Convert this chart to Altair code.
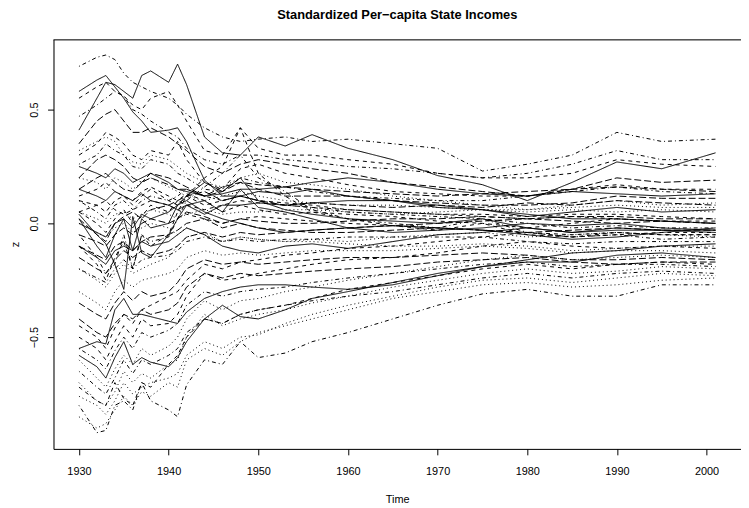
import altair as alt
import pandas as pd

years = [1930, 1932, 1933, 1934, 1935, 1936, 1937, 1938, 1940, 1941, 1942, 1944, 1946,
         1948, 1950, 1953, 1956, 1960, 1965, 1970, 1975, 1980, 1985, 1990, 1995, 2001]

line_types = ["solid", "dashed", "dotted", "dotdash", "longdash"]

s01 = [-0.58, -0.63, -0.68, -0.59, -0.52, -0.62, -0.59, -0.61, -0.63, -0.59, -0.52, -0.42, -0.36, -0.41, -0.42, -0.38, -0.33, -0.30, -0.26, -0.22, -0.19, -0.17, -0.17, -0.14, -0.13, -0.15]
s02 = [0.05, 0.00, -0.04, 0.02, 0.06, 0.00, 0.03, 0.08, 0.05, 0.10, 0.13, 0.10, 0.05, 0.08, 0.06, 0.04, 0.05, 0.04, 0.03, 0.01, 0.00, -0.02, 0.00, 0.02, 0.01, 0.00]
s03 = [-0.76, -0.80, -0.84, -0.78, -0.70, -0.75, -0.72, -0.70, -0.68, -0.66, -0.58, -0.52, -0.55, -0.50, -0.49, -0.44, -0.40, -0.36, -0.32, -0.28, -0.25, -0.24, -0.26, -0.24, -0.22, -0.23]
s04 = [0.69, 0.73, 0.74, 0.72, 0.66, 0.62, 0.60, 0.58, 0.55, 0.52, 0.48, 0.42, 0.38, 0.36, 0.37, 0.38, 0.36, 0.37, 0.35, 0.33, 0.23, 0.26, 0.30, 0.40, 0.36, 0.37]
s05 = [0.02, -0.05, -0.08, 0.00, 0.03, 0.05, 0.02, 0.06, 0.08, 0.10, 0.12, 0.14, 0.10, 0.12, 0.10, 0.08, 0.09, 0.08, 0.07, 0.08, 0.07, 0.09, 0.08, 0.10, 0.09, 0.08]
s06 = [0.41, 0.55, 0.62, 0.61, 0.58, 0.55, 0.65, 0.67, 0.62, 0.70, 0.61, 0.38, 0.31, 0.30, 0.38, 0.34, 0.39, 0.33, 0.28, 0.21, 0.17, 0.10, 0.18, 0.27, 0.24, 0.31]
s07 = [0.55, 0.60, 0.62, 0.58, 0.56, 0.52, 0.50, 0.55, 0.58, 0.52, 0.45, 0.32, 0.30, 0.42, 0.33, 0.30, 0.30, 0.28, 0.26, 0.22, 0.20, 0.20, 0.22, 0.28, 0.26, 0.25]
s08 = [-0.20, -0.25, -0.28, -0.22, -0.18, -0.22, -0.20, -0.18, -0.15, -0.10, -0.06, -0.04, -0.08, -0.06, -0.07, -0.08, -0.07, -0.08, -0.06, -0.05, -0.04, -0.06, -0.05, -0.04, -0.05, -0.06]
s09 = [-0.05, -0.15, -0.22, -0.18, -0.05, -0.20, -0.05, -0.08, -0.06, 0.02, 0.10, 0.16, 0.22, 0.30, 0.20, 0.14, 0.06, 0.02, 0.00, -0.02, 0.02, -0.04, -0.06, -0.05, -0.07, -0.06]
s10 = [0.15, 0.20, 0.22, 0.18, 0.15, 0.14, 0.18, 0.20, 0.17, 0.15, 0.15, 0.12, 0.16, 0.18, 0.17, 0.16, 0.15, 0.14, 0.13, 0.12, 0.13, 0.14, 0.15, 0.16, 0.15, 0.14]
s11 = [0.58, 0.63, 0.65, 0.60, 0.55, 0.49, 0.45, 0.40, 0.41, 0.42, 0.36, 0.19, 0.12, 0.12, 0.14, 0.13, 0.15, 0.12, 0.10, 0.08, 0.06, 0.03, 0.05, 0.07, 0.05, 0.06]
s12 = [-0.50, -0.55, -0.60, -0.52, -0.45, -0.50, -0.42, -0.45, -0.44, -0.40, -0.32, -0.22, -0.25, -0.24, -0.22, -0.20, -0.18, -0.16, -0.15, -0.13, -0.10, -0.08, -0.10, -0.11, -0.10, -0.11]
s13 = [0.32, 0.36, 0.38, 0.36, 0.30, 0.27, 0.26, 0.30, 0.28, 0.25, 0.22, 0.18, 0.16, 0.20, 0.22, 0.18, 0.17, 0.15, 0.12, 0.10, 0.08, 0.06, 0.08, 0.10, 0.08, 0.09]
s14 = [-0.80, -0.92, -0.91, -0.80, -0.78, -0.82, -0.70, -0.78, -0.82, -0.85, -0.71, -0.60, -0.62, -0.52, -0.59, -0.57, -0.52, -0.48, -0.42, -0.36, -0.31, -0.29, -0.32, -0.32, -0.27, -0.27]
s15 = [-0.42, -0.48, -0.50, -0.44, -0.40, -0.42, -0.38, -0.40, -0.38, -0.35, -0.28, -0.22, -0.24, -0.22, -0.23, -0.22, -0.21, -0.20, -0.19, -0.17, -0.16, -0.15, -0.17, -0.18, -0.17, -0.17]
s16 = [0.04, -0.05, -0.09, -0.18, -0.29, 0.03, -0.13, -0.15, -0.05, 0.02, 0.08, 0.10, 0.05, 0.15, 0.07, 0.05, 0.02, -0.02, -0.04, -0.03, -0.02, 0.00, -0.01, 0.00, -0.02, -0.03]
s17 = [0.10, 0.08, 0.05, 0.10, 0.12, 0.08, 0.12, 0.15, 0.10, 0.08, 0.12, 0.08, 0.10, 0.12, 0.10, 0.09, 0.08, 0.06, 0.05, 0.04, 0.03, 0.02, 0.03, 0.02, 0.01, 0.01]
s18 = [-0.70, -0.78, -0.80, -0.74, -0.65, -0.70, -0.66, -0.68, -0.62, -0.60, -0.50, -0.40, -0.45, -0.42, -0.40, -0.38, -0.35, -0.32, -0.28, -0.25, -0.22, -0.20, -0.22, -0.21, -0.19, -0.20]
s19 = [0.47, 0.52, 0.55, 0.58, 0.56, 0.50, 0.48, 0.45, 0.40, 0.38, 0.33, 0.28, 0.26, 0.30, 0.30, 0.28, 0.27, 0.25, 0.24, 0.22, 0.20, 0.22, 0.26, 0.32, 0.28, 0.28]
s20 = [-0.10, -0.14, -0.16, -0.10, -0.08, -0.12, -0.08, -0.06, -0.05, -0.03, 0.00, 0.02, -0.02, 0.00, -0.02, -0.03, -0.04, -0.04, -0.03, -0.02, -0.03, -0.04, -0.03, -0.02, -0.03, -0.03]
s21 = [-0.55, -0.52, -0.53, -0.38, -0.33, -0.40, -0.40, -0.41, -0.43, -0.44, -0.39, -0.33, -0.30, -0.28, -0.27, -0.27, -0.28, -0.29, -0.27, -0.23, -0.19, -0.16, -0.13, -0.12, -0.10, -0.09]
s22 = [-0.10, -0.18, -0.25, -0.15, -0.08, -0.20, -0.05, -0.10, -0.05, 0.05, 0.12, 0.20, 0.25, 0.42, 0.22, 0.12, 0.05, 0.02, -0.01, -0.03, 0.00, -0.05, -0.06, -0.04, -0.05, -0.05]
s23 = [0.00, -0.04, -0.06, -0.02, 0.00, -0.04, -0.02, 0.00, -0.02, -0.05, -0.02, -0.05, -0.08, -0.06, -0.07, -0.08, -0.08, -0.09, -0.10, -0.10, -0.09, -0.10, -0.12, -0.11, -0.10, -0.10]
s24 = [-0.65, -0.72, -0.75, -0.68, -0.60, -0.66, -0.60, -0.62, -0.58, -0.55, -0.48, -0.42, -0.44, -0.40, -0.38, -0.36, -0.34, -0.32, -0.30, -0.27, -0.24, -0.22, -0.24, -0.22, -0.21, -0.22]
s25 = [0.35, 0.45, 0.48, 0.50, 0.45, 0.40, 0.40, 0.42, 0.38, 0.35, 0.32, 0.25, 0.22, 0.26, 0.28, 0.26, 0.24, 0.22, 0.18, 0.16, 0.14, 0.12, 0.15, 0.20, 0.18, 0.19]
s26 = [0.25, 0.22, 0.20, 0.24, 0.22, 0.18, 0.20, 0.22, 0.18, 0.15, 0.14, 0.12, 0.13, 0.15, 0.15, 0.16, 0.18, 0.20, 0.18, 0.15, 0.13, 0.12, 0.14, 0.13, 0.12, 0.13]
s27 = [0.30, 0.35, 0.40, 0.38, 0.35, 0.30, 0.28, 0.32, 0.30, 0.36, 0.28, 0.18, 0.15, 0.24, 0.26, 0.22, 0.20, 0.17, 0.14, 0.13, 0.12, 0.12, 0.15, 0.17, 0.15, 0.15]
s28 = [-0.85, -0.90, -0.88, -0.82, -0.76, -0.80, -0.74, -0.76, -0.70, -0.72, -0.60, -0.55, -0.58, -0.52, -0.48, -0.45, -0.42, -0.38, -0.33, -0.30, -0.27, -0.26, -0.28, -0.27, -0.25, -0.24]
s29 = [0.26, 0.30, 0.35, 0.32, 0.30, 0.25, 0.24, 0.28, 0.26, 0.22, 0.20, 0.15, 0.14, 0.20, 0.18, 0.16, 0.14, 0.12, 0.11, 0.10, 0.10, 0.12, 0.14, 0.16, 0.14, 0.13]
s30 = [-0.15, -0.20, -0.22, -0.16, -0.12, -0.15, -0.12, -0.14, -0.12, -0.10, -0.06, -0.04, -0.06, -0.04, -0.05, -0.04, -0.03, -0.02, -0.01, 0.00, 0.01, 0.02, 0.01, 0.00, 0.01, 0.00]
s31 = [0.15, 0.12, 0.10, 0.14, 0.12, 0.10, 0.13, 0.10, 0.08, 0.06, 0.08, 0.04, 0.08, 0.08, 0.09, 0.08, 0.09, 0.10, 0.10, 0.07, 0.06, 0.04, 0.02, 0.02, 0.01, 0.00]
s32 = [-0.45, -0.50, -0.55, -0.46, -0.40, -0.44, -0.38, -0.36, -0.32, -0.30, -0.25, -0.18, -0.20, -0.17, -0.16, -0.14, -0.13, -0.11, -0.10, -0.08, -0.06, -0.04, -0.06, -0.05, -0.04, -0.04]
s33 = [0.05, 0.02, 0.00, 0.04, 0.05, 0.02, 0.04, 0.06, 0.04, 0.02, 0.04, 0.06, 0.04, 0.05, 0.05, 0.06, 0.06, 0.05, 0.04, 0.05, 0.06, 0.05, 0.06, 0.05, 0.06, 0.05]
s34 = [0.10, 0.05, 0.02, 0.08, 0.10, 0.06, 0.10, 0.12, 0.10, 0.12, 0.15, 0.12, 0.10, 0.12, 0.10, 0.08, 0.07, 0.05, 0.04, 0.03, 0.02, 0.00, -0.02, -0.01, -0.02, -0.02]
s35 = [0.20, 0.28, 0.30, 0.28, 0.25, 0.20, 0.18, 0.22, 0.20, 0.18, 0.16, 0.12, 0.14, 0.18, 0.15, 0.12, 0.12, 0.12, 0.10, 0.09, 0.08, 0.08, 0.09, 0.12, 0.11, 0.11]
s36 = [-0.10, -0.15, -0.18, -0.12, -0.10, -0.12, -0.08, -0.10, -0.08, -0.05, -0.02, -0.05, -0.10, -0.12, -0.13, -0.10, -0.09, -0.11, -0.08, -0.05, -0.04, -0.02, -0.04, -0.03, -0.03, -0.04]
s37 = [0.05, 0.08, 0.10, 0.06, 0.04, 0.06, 0.08, 0.10, 0.08, 0.06, 0.04, 0.02, 0.00, 0.02, 0.03, 0.02, 0.01, 0.00, -0.01, -0.02, -0.03, -0.04, -0.05, -0.04, -0.05, -0.05]
s38 = [-0.30, -0.35, -0.38, -0.30, -0.25, -0.28, -0.25, -0.24, -0.22, -0.20, -0.15, -0.12, -0.14, -0.13, -0.14, -0.13, -0.12, -0.12, -0.12, -0.11, -0.10, -0.11, -0.13, -0.12, -0.12, -0.13]
s39 = [-0.55, -0.60, -0.64, -0.56, -0.50, -0.55, -0.48, -0.50, -0.47, -0.44, -0.36, -0.30, -0.32, -0.30, -0.29, -0.28, -0.26, -0.24, -0.22, -0.20, -0.18, -0.17, -0.19, -0.18, -0.18, -0.19]
s40 = [-0.05, -0.08, -0.10, -0.05, -0.02, -0.05, 0.00, 0.02, 0.00, 0.02, 0.05, 0.03, 0.00, 0.02, 0.01, 0.00, 0.00, 0.01, 0.02, 0.02, 0.03, 0.02, 0.03, 0.03, 0.02, 0.02]
s41 = [0.00, -0.04, -0.06, 0.00, 0.02, -0.02, 0.04, 0.02, 0.05, 0.08, 0.10, 0.05, 0.02, 0.00, -0.02, -0.04, -0.03, -0.02, -0.01, -0.02, -0.03, -0.05, -0.07, -0.06, -0.04, -0.02]
s42 = [-0.72, -0.78, -0.80, -0.70, -0.77, -0.80, -0.70, -0.72, -0.62, -0.58, -0.50, -0.42, -0.44, -0.40, -0.38, -0.36, -0.33, -0.29, -0.26, -0.23, -0.20, -0.18, -0.20, -0.18, -0.17, -0.18]
s43 = [0.20, 0.18, 0.15, 0.20, 0.18, 0.15, 0.18, 0.20, 0.16, 0.14, 0.12, 0.10, 0.12, 0.14, 0.12, 0.10, 0.09, 0.08, 0.08, 0.07, 0.06, 0.06, 0.07, 0.08, 0.07, 0.07]
s44 = [-0.20, -0.24, -0.26, -0.20, -0.16, -0.20, -0.16, -0.15, -0.14, -0.12, -0.08, -0.06, -0.08, -0.07, -0.08, -0.07, -0.07, -0.06, -0.06, -0.06, -0.06, -0.08, -0.09, -0.08, -0.08, -0.08]
s45 = [-0.35, -0.40, -0.42, -0.35, -0.30, -0.34, -0.30, -0.32, -0.30, -0.26, -0.20, -0.16, -0.18, -0.17, -0.18, -0.17, -0.16, -0.15, -0.15, -0.14, -0.13, -0.14, -0.16, -0.16, -0.15, -0.16]
s46 = [0.02, -0.10, -0.15, -0.05, 0.02, -0.12, 0.02, -0.02, 0.00, 0.08, 0.12, 0.18, 0.14, 0.20, 0.10, 0.06, 0.04, 0.02, 0.01, 0.00, 0.02, -0.02, -0.04, -0.02, -0.03, -0.03]
s47 = [0.12, 0.15, 0.18, 0.14, 0.12, 0.10, 0.14, 0.16, 0.12, 0.10, 0.08, 0.06, 0.08, 0.10, 0.09, 0.08, 0.07, 0.06, 0.05, 0.04, 0.04, 0.03, 0.04, 0.04, 0.03, 0.02]
s48 = [-0.60, -0.68, -0.72, -0.64, -0.58, -0.62, -0.55, -0.58, -0.54, -0.50, -0.42, -0.34, -0.38, -0.34, -0.33, -0.30, -0.28, -0.25, -0.22, -0.19, -0.16, -0.14, -0.16, -0.15, -0.14, -0.15]

all_series = [s01, s02, s03, s04, s05, s06, s07, s08, s09, s10, s11, s12, s13, s14, s15, s16,
              s17, s18, s19, s20, s21, s22, s23, s24, s25, s26, s27, s28, s29, s30, s31, s32,
              s33, s34, s35, s36, s37, s38, s39, s40, s41, s42, s43, s44, s45, s46, s47, s48]

title_text = ["Standardized Per\u2212capita State Incomes"]

rows = []
for i, vals in enumerate(all_series):
    for yr, v in zip(years, vals):
        rows.append({"series": i + 1, "year": yr, "z": v, "lty": line_types[i % 5]})
df = pd.DataFrame(rows)

W, H = 695, 414
FONT = "Liberation Sans"

lines = alt.Chart(df).mark_line(strokeWidth=1, color="black").encode(
    x=alt.X("year:Q",
            scale=alt.Scale(domain=[1927.16, 2003.84], nice=False, zero=False),
            axis=alt.Axis(values=[1930, 1940, 1950, 1960, 1970, 1980, 1990, 2000],
                          format="d", title="Time", grid=False,
                          tickSize=6, labelPadding=20, labelBaseline="alphabetic",
                          labelFontSize=11, labelFont=FONT, labelColor="black",
                          domainColor="black", tickColor="black",
                          titleFont=FONT, titleFontSize=11, titleFontWeight="normal",
                          titleColor="black", titleBaseline="alphabetic",
                          titleX=W / 2, titleY=54, titleAlign="center",
                          labelOverlap=False, labelFlush=False)),
    y=alt.Y("z:Q",
            scale=alt.Scale(domain=[-0.9913, 0.8087], nice=False, zero=False),
            axis=alt.Axis(values=[-0.5, 0.0, 0.5], format=".1f", title="z", grid=False,
                          tickSize=6, labelPadding=10.5, labelAngle=270,
                          labelAlign="center", labelBaseline="alphabetic",
                          labelFontSize=11, labelFont=FONT, labelColor="black",
                          domainColor="black", tickColor="black",
                          titleFont=FONT, titleFontSize=11, titleFontWeight="normal",
                          titleColor="black", titleAngle=270, titleAlign="center",
                          titleBaseline="alphabetic", titleX=-35, titleY=207,
                          labelOverlap=False, labelFlush=False)),
    detail="series:N",
    strokeDash=alt.StrokeDash("lty:N",
                              scale=alt.Scale(domain=line_types,
                                              range=[[1, 0], [4, 4], [1, 3], [1, 3, 4, 3], [7, 3]]),
                              legend=None),
)

frame_df = pd.DataFrame({"edge": ["top"]})
top_frame = alt.Chart(frame_df).mark_rule(color="black", strokeWidth=1).encode(
    x=alt.value(0), x2=alt.value(W), y=alt.value(0.5)
)

title_mark = alt.Chart(pd.DataFrame({"t": title_text})).mark_text(
    font=FONT, fontSize=13, fontWeight="bold", color="black",
    align="center", baseline="alphabetic"
).encode(text="t:N", x=alt.value(W / 2), y=alt.value(-21))

chart = alt.layer(lines, top_frame, title_mark).properties(
    width=W, height=H,
    autosize=alt.AutoSizeParams(type="none"),
    padding={"left": 46, "top": 29, "right": 0, "bottom": 55},
).configure_view(stroke=None).configure(background="white")

chart.save("out.html", embed_options={"renderer": "svg", "actions": False})
